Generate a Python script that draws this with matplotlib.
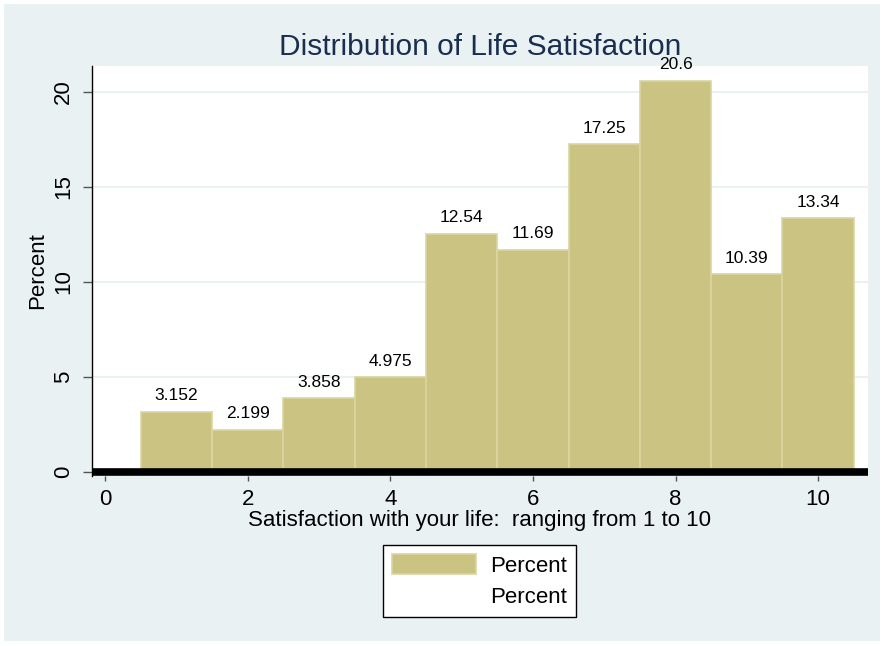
import matplotlib.pyplot as plt
from matplotlib.patches import Rectangle, Patch
from matplotlib.lines import Line2D

plt.rcParams['font.family'] = ['Liberation Sans', 'DejaVu Sans']

# data
scores = [1, 2, 3, 4, 5, 6, 7, 8, 9, 10]
percent = [3.152, 2.199, 3.858, 4.975, 12.54, 11.69, 17.25, 20.6, 10.39, 13.34]
labels = ['3.152', '2.199', '3.858', '4.975', '12.54', '11.69', '17.25', '20.6', '10.39', '13.34']

bg = '#eaf1f3'
bar_col = '#cbc382'
bar_edge = '#dad5a2'
tick_col = '#555555'

fig = plt.figure(figsize=(8.86, 6.46), dpi=100, facecolor='white')
# light outer region (graph region) with thin white margin
fig.patches.append(Rectangle((4 / 886, 5 / 646), 876 / 886, 637 / 646,
                             transform=fig.transFigure, facecolor=bg,
                             edgecolor='none', zorder=-10))

ax = fig.add_axes([91.7 / 886, 1 - 476 / 646, (868 - 91.7) / 886, (476 - 66) / 646])
ax.set_zorder(1)
ax.set_facecolor('white')

ax.bar(scores, percent, width=1.0, color=bar_col, edgecolor=bar_edge,
       linewidth=1.2, zorder=2)
# second "Percent" series sits on zero as a thick line
ax.axhline(0, color='black', linewidth=5.5, zorder=3)

for x, v, t in zip(scores, percent, labels):
    ax.text(x, v + 0.45, t, ha='center', va='bottom', fontsize=12.5, zorder=4)

ax.set_xlim(-0.19, 10.70)
ax.set_ylim(-0.23, 21.37)
ax.set_xticks([0, 2, 4, 6, 8, 10])
ax.set_yticks([0, 5, 10, 15, 20])
ax.yaxis.grid(True, color=bg, linewidth=1.5, zorder=1)
ax.set_axisbelow(True)

for s in ['top', 'right', 'bottom']:
    ax.spines[s].set_visible(False)
ax.spines['left'].set_linewidth(1.0)

ax.tick_params(axis='both', labelsize=16, width=1.0, direction='out', color=tick_col)
ax.tick_params(axis='y', length=6.5, pad=6)
ax.tick_params(axis='x', length=3.5, pad=6)
plt.setp(ax.get_yticklabels(), rotation=90, va='center')

ax.set_ylabel('Percent', fontsize=16, labelpad=4)
ax.set_xlabel('Satisfaction with your life:  ranging from 1 to 10', fontsize=16, labelpad=0)
ax.set_title('Distribution of Life Satisfaction', fontsize=21.5, color='#1a2e50', pad=8)

handles = [Patch(facecolor=bar_col, edgecolor=bar_edge, linewidth=1.2),
           Line2D([], [], color='white', linewidth=0)]
leg = fig.legend(handles, ['Percent', 'Percent'], loc='center',
                 bbox_to_anchor=(479.5 / 886, 1 - 581 / 646), fontsize=16,
                 frameon=True, fancybox=False, edgecolor='black', framealpha=1,
                 handlelength=3.8, handleheight=1.0, borderpad=0.4,
                 labelspacing=0.4, handletextpad=0.63)
leg.get_frame().set_linewidth(1.0)

fig.savefig('out.png', dpi=100, facecolor='white')
